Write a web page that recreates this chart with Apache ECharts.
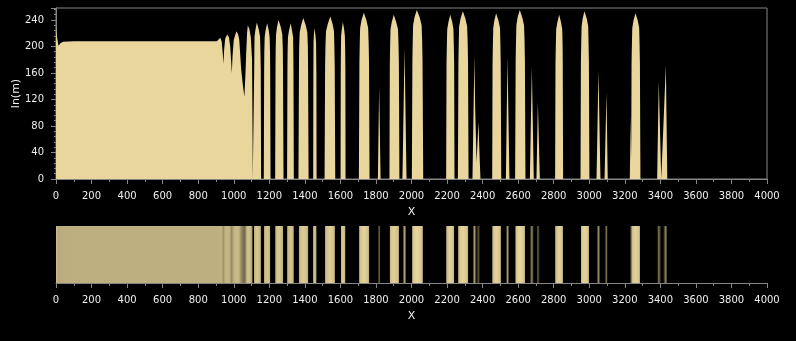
<!DOCTYPE html>
<html>
<head>
<meta charset="utf-8">
<script src="https://cdn.jsdelivr.net/npm/echarts@6/dist/echarts.min.js"></script>
<style>
html,body{margin:0;padding:0;background:#000;}
#chart{width:796px;height:341px;}
</style>
</head>
<body>
<div id="chart"></div>
<script>
// ---- data ----
const xTicks = [0, 4000, 200];           // x range and step
const yTicks = [0, 258, 40];             // y range and step
const yName = 'ln(m)';
const xName = 'X';

const plateau = [[0,231],[5,215],[14,201],[25,205],[40,207],[100,208],[905,208],[915,211],[924,213],[932,208],[938,190],[942,174],[946,195],[952,212],[963,218],[973,214],[980,200],[986,175],[989,159],[993,185],[1000,210],[1015,223],[1025,218],[1031,210],[1042,165],[1052,140],[1060,124],[1066,160],[1070,190],[1075,220],[1079,232],[1088,226],[1096,214],[1103,180],[1106,60],[1107,0]];

const archesA = [
  [1113,0],[1115,165],[1116,195],[1117,215],[1122,225],[1130,236],[1141,225],[1148,215],[1150,195],[1152,165],[1154,0],
  [1169,0],[1171,165],[1172,193],[1174,214],[1179,224],[1188,235],[1197,224],[1202,214],[1204,193],[1205,165],[1207,0],
  [1233,0],[1235,168],[1236,197],[1238,218],[1243,229],[1252,240],[1265,229],[1273,218],[1276,197],[1277,168],[1280,0],
  [1300,0],[1302,165],[1303,193],[1305,214],[1311,224],[1320,235],[1328,224],[1334,214],[1335,193],[1336,165],[1338,0],
  [1364,0],[1367,170],[1368,199],[1371,221],[1379,232],[1391,243],[1405,232],[1414,221],[1417,199],[1418,170],[1421,0],
  [1447,0],[1448,160],[1449,207],[1451,218],[1454,228],[1459,218],[1463,207],[1465,160],[1466,0]
];

const archesB = [
  [1511,0],[1514,172],[1516,201],[1519,223],[1529,234],[1543,245],[1556,234],[1564,223],[1566,201],[1568,172],[1571,0],
  [1601,0],[1602,166],[1603,194],[1604,216],[1608,226],[1614,237],[1621,226],[1625,216],[1627,194],[1628,166],[1629,0],
  [1704,0],[1707,176],[1709,206],[1711,228],[1719,240],[1732,251],[1746,240],[1756,228],[1759,206],[1761,176],[1764,0],
  [1811,0],[1818,139],[1826,0],
  [1876,0],[1878,174],[1880,203],[1882,226],[1889,237],[1900,248],[1914,237],[1924,226],[1927,203],[1929,174],[1932,0],
  [1949,0],[1961,198],[1972,0],
  [2002,0],[2005,179],[2007,209],[2009,232],[2017,244],[2030,255],[2046,244],[2057,232],[2060,209],[2062,179],[2066,0]
];

const archesC = [
  [2195,0],[2197,174],[2199,203],[2201,226],[2208,237],[2218,248],[2229,237],[2236,226],[2238,203],[2240,174],[2242,0],
  [2261,0],[2264,177],[2266,207],[2268,230],[2276,242],[2289,253],[2303,242],[2313,230],[2316,207],[2318,177],[2321,0],
  [2343,0],[2350,120],[2354,187],[2358,110],[2366,25],[2374,70],[2377,86],[2381,50],[2388,0],
  [2454,0],[2456,175],[2458,205],[2460,228],[2466,239],[2476,250],[2489,239],[2498,228],[2500,205],[2502,175],[2505,0],
  [2531,0],[2540,184],[2551,0],
  [2583,0],[2586,179],[2588,209],[2590,232],[2597,244],[2609,255],[2623,244],[2633,232],[2636,209],[2638,179],[2641,0],
  [2666,0],[2677,169],[2688,0],
  [2703,0],[2711,116],[2722,0]
];

const archesD = [
  [2808,0],[2810,174],[2812,203],[2814,226],[2821,237],[2831,248],[2841,237],[2848,226],[2850,203],[2851,174],[2853,0],
  [2951,0],[2953,177],[2955,207],[2957,230],[2963,242],[2973,253],[2986,242],[2994,230],[2996,207],[2998,177],[3001,0],
  [3041,0],[3052,164],[3063,0],
  [3086,0],[3097,131],[3104,0],
  [3228,0],[3234,96],[3236,30],[3238,175],[3240,204],[3242,228],[3249,239],[3260,250],[3273,239],[3281,228],[3283,204],[3285,175],[3288,0],
  [3382,0],[3391,148],[3405,0],
  [3416,0],[3431,172],[3439,0]
];

// ---- build ----
const profile = plateau.concat(archesA, archesB, archesC, archesD);
const fillColor = '#e8d69c';
const vMax = 255;
const txt = '#eeeeee';
const axisGray = '#858585';
const font = 'DejaVu Sans';

function plain(v) { return String(v); }

function xAxisCfg(gi) {
  return {
    type: 'value', gridIndex: gi, min: xTicks[0], max: xTicks[1], interval: xTicks[2],
    name: xName, nameLocation: 'middle', nameGap: 28, nameMoveOverlap: false,
    nameTextStyle: { color: txt, fontFamily: font, fontSize: 11 },
    axisLine: { show: true, onZero: false, lineStyle: { color: axisGray, width: 1 } },
    axisTick: { show: true, length: 5, lineStyle: { color: axisGray } },
    minorTick: { show: true, splitNumber: 2, length: 3, lineStyle: { color: axisGray } },
    axisLabel: { color: txt, fontFamily: font, fontSize: 10, margin: 12, formatter: plain },
    splitLine: { show: false }
  };
}

const chart = echarts.init(document.getElementById('chart'), null, { renderer: 'canvas' });
chart.setOption({
  backgroundColor: '#000',
  animation: false,
  grid: [
    { left: 56, right: 29, top: 8, bottom: 162, containLabel: false, outerBoundsMode: 'none',
      show: true, borderColor: axisGray, borderWidth: 1, backgroundColor: 'transparent' },
    { left: 56, right: 29, top: 226, bottom: 58, containLabel: false, outerBoundsMode: 'none', show: false }
  ],
  xAxis: [xAxisCfg(0), xAxisCfg(1)],
  yAxis: [
    {
      type: 'value', gridIndex: 0, min: yTicks[0], max: yTicks[1], interval: yTicks[2],
      name: yName, nameLocation: 'middle', nameGap: 34, nameRotate: 90, nameMoveOverlap: false,
      nameTextStyle: { color: txt, fontFamily: font, fontSize: 11 },
      axisLine: { show: true, lineStyle: { color: axisGray, width: 1 } },
      axisTick: { show: true, length: 5, lineStyle: { color: axisGray } },
      minorTick: { show: true, splitNumber: 5, length: 2, lineStyle: { color: axisGray } },
      axisLabel: { color: txt, fontFamily: font, fontSize: 10, margin: 12, showMaxLabel: false, formatter: plain },
      splitLine: { show: false }
    },
    { type: 'value', gridIndex: 1, min: 0, max: 1, show: false }
  ],
  series: [
    {
      type: 'line', xAxisIndex: 0, yAxisIndex: 0, data: profile,
      showSymbol: false, symbol: 'none', sampling: null,
      lineStyle: { width: 0, opacity: 0 },
      areaStyle: { color: fillColor, opacity: 1 },
      z: 2
    },
    {
      type: 'custom', xAxisIndex: 1, yAxisIndex: 1, data: profile,
      encode: { x: 0, y: 1 },
      renderItem: function (params, api) {
        if (params.dataIndex !== 0) return;
        const first = profile[0], last = profile[profile.length - 1];
        const span = last[0] - first[0];
        const stops = profile.map(function (p) {
          return {
            offset: (p[0] - first[0]) / span,
            color: echarts.color.lerp(Math.min(p[1] / vMax, 1), ['#000000', fillColor])
          };
        });
        const p0 = api.coord([first[0], 1]);
        const p1 = api.coord([last[0], 0]);
        return {
          type: 'rect',
          shape: { x: p0[0], y: p0[1], width: p1[0] - p0[0], height: p1[1] - p0[1] },
          style: { fill: new echarts.graphic.LinearGradient(0, 0, 1, 0, stops) }
        };
      }
    }
  ]
});
</script>
</body>
</html>
